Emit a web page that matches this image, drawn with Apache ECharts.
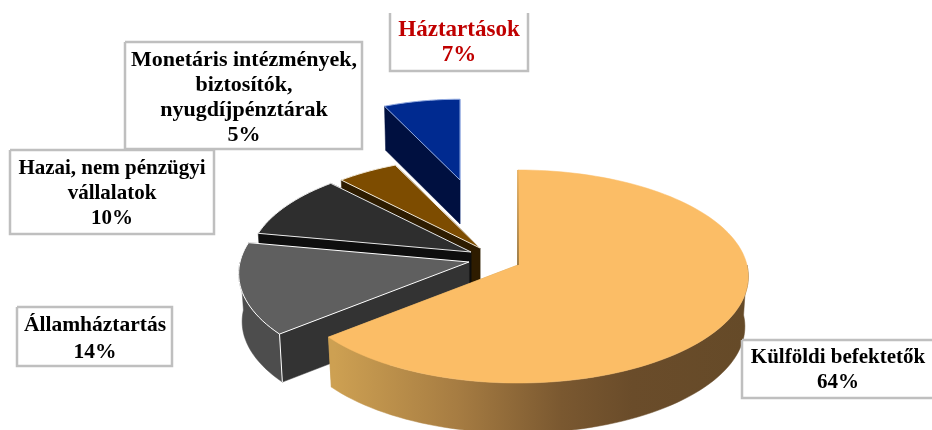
<!DOCTYPE html>
<html><head><meta charset="utf-8">
<style>html,body{margin:0;padding:0;background:#fff}#c{width:932px;height:430px}</style>
<script src="https://cdn.jsdelivr.net/npm/echarts@6/dist/echarts.min.js"></script>
</head><body><div id="c"></div>
<script>
const categories = ['Külföldi befektetők','Államháztartás','Hazai, nem pénzügyi vállalatok','Monetáris intézmények, biztosítók, nyugdíjpénztárak','Háztartások'];
const shares = [64,14,10,5,7];
const labelLines = [
  ['Külföldi befektetők'],
  ['Államháztartás'],
  ['Hazai, nem pénzügyi','vállalatok'],
  ['Monetáris intézmények,','biztosítók,','nyugdíjpénztárak'],
  ['Háztartások']
];
// styling and layout (not data)
const R = 229, A = 105.3, K = 0.108, BOTTOM_SHRINK = 0.985;
const sliceStyle = [
  {ax:518,ay:265,scale:1,   depth:50,top:'#FBBD66',wall:'#6a4c2a',start:'#6a4c2a',end:'#c9a05a',edge:null},
  {ax:469,ay:262,scale:1,   depth:48,top:'#5f5f5f',wall:'#4d4d4d',start:'#333333',end:'#333333',edge:'#ffffff'},
  {ax:471,ay:252,scale:.965,depth:47,top:'#2e2e2e',wall:'#1a1a1a',start:'#0e0e0e',end:'#0e0e0e',edge:'#e8e8e8'},
  {ax:480,ay:248,scale:.955,depth:46,top:'#7d4c00',wall:'#2e1c00',start:'#2e1c00',end:'#2e1c00',edge:'#f0e8d8'},
  {ax:460,ay:180,scale:.85, depth:44,top:'#002a90',wall:'#001040',start:'#001040',end:'#7f9bd8',edge:'#8fa8e0'}
];
const boxStyle = [
  {x:742,y:340,w:192,h:58,cx:838,ly:[358,383],color:'#000',size:21},
  {x:17,y:307,w:155,h:59,cx:95,ly:[325,352],color:'#000',size:21.5},
  {x:10,y:150,w:204,h:84,cx:112,ly:[169,194,219],color:'#000',size:21},
  {x:125,y:42,w:237,h:107,cx:244,ly:[60,85,110,135],color:'#000',size:22},
  {x:390,y:13,w:138,h:58,cx:459,ly:[30,55],color:'#c00000',size:23,noTop:true}
];
const total = shares.reduce((a,b)=>a+b,0);
const starts = []; shares.reduce((acc,v,i)=>{starts[i]=acc;return acc+v;},0);

function pt(l,deg,dy){
  const t=deg*Math.PI/180,u=Math.sin(t),v=Math.cos(t),s=1/(1+K*v);
  const shrink=dy?BOTTOM_SHRINK:1;
  return [l.ax+R*l.scale*u*s*shrink, l.ay-A*l.scale*v*s+(dy||0)];
}
function arc(l,a,b,dy){
  const out=[],n=Math.max(2,Math.ceil(Math.abs(b-a)/2));
  for(let i=0;i<=n;i++) out.push(pt(l,a+(b-a)*i/n,dy));
  return out;
}
function wallPoly(l,deg){
  const o=[l.ax,l.ay],p=pt(l,deg),q=pt(l,deg,l.depth);
  return [o,p,q,[o[0],o[1]+l.depth]];
}
const orangeFade = new echarts.graphic.LinearGradient(334,0,748,0,[
  {offset:0,color:'#cda052'},{offset:.3,color:'#a67c42'},{offset:.55,color:'#7a5830'},{offset:.72,color:'#6a4c2a'},{offset:1,color:'#654a28'}],true);
const orangeInner = new echarts.graphic.LinearGradient(0,170,0,265,[
  {offset:0,color:'#f0b560'},{offset:1,color:'#8a6a35'}],true);

function renderSlice(params,api){
  const i=api.value(1), v=api.value(0), l=sliceStyle[i];
  const a=starts[i]/total*360, b=(starts[i]+v)/total*360;
  const kids=[];
  const poly=(points,fill,extra)=>kids.push({type:'polygon',shape:{points},style:Object.assign({fill,stroke:fill,lineWidth:.5},extra||{})});
  poly(wallPoly(l,b),l.end);
  poly(wallPoly(l,a),l.start);
  const va=Math.max(a,90), vb=Math.min(b,270);
  if(vb>va){
    const top=arc(l,va,vb), bot=arc(l,va,vb,l.depth).reverse();
    poly(top.concat(bot), i===0?orangeFade:l.wall);
  }
  const face=[[l.ax,l.ay]].concat(arc(l,a,b));
  poly(face,l.top,l.edge?{stroke:l.edge,lineWidth:1}:{});
  if(i===0){
    const p=pt(l,a);
    kids.push({type:'line',shape:{x1:p[0],y1:p[1],x2:l.ax,y2:l.ay},style:{stroke:orangeInner,lineWidth:1.5}});
  }
  if(i===1){
    const p=pt(l,a),q=pt(l,a,l.depth);
    kids.push({type:'line',shape:{x1:p[0],y1:p[1],x2:q[0],y2:q[1]},style:{stroke:l.edge,lineWidth:1}});
  }
  return {type:'group',children:kids};
}

const graphics=[];
categories.forEach((c,i)=>{
  const b=boxStyle[i];
  const pts=b.noTop?[[b.x,b.y],[b.x,b.y+b.h],[b.x+b.w,b.y+b.h],[b.x+b.w,b.y]]
    :[[b.x,b.y],[b.x,b.y+b.h],[b.x+b.w,b.y+b.h],[b.x+b.w,b.y],[b.x,b.y]];
  graphics.push({type:'polyline',z:10,shape:{points:pts},style:{stroke:'#bfbfbf',lineWidth:2.5,fill:'#fff'}});
  const lines=labelLines[i].concat([shares[i]+'%']);
  lines.forEach((t,j)=>graphics.push({type:'text',z:11,style:{text:t,x:b.cx,y:b.ly[j],align:'center',verticalAlign:'middle',
    font:'bold '+b.size+'px "Liberation Serif", serif',fill:b.color}}));
});

const chart=echarts.init(document.getElementById('c'),null,{renderer:'canvas'});
chart.setOption({
  animation:false,
  backgroundColor:'#fff',
  graphic:graphics,
  series:[{type:'custom',coordinateSystem:'none',renderItem:renderSlice,silent:true,
    encode:{value:0},
    data:shares.map((v,i)=>[v,i]).reverse()}]
});
</script></body></html>
